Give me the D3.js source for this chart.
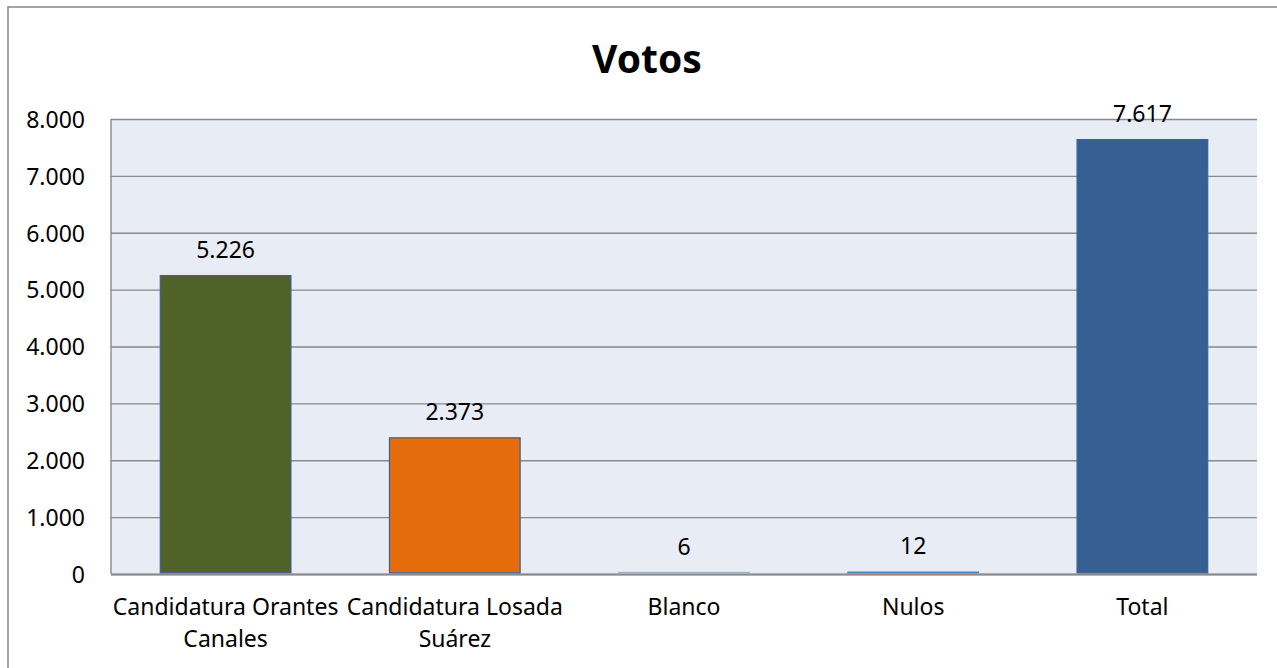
<!DOCTYPE html>
<html><head><meta charset="utf-8">
<script src="https://cdn.jsdelivr.net/npm/d3@7"></script>
<style>html,body{margin:0;padding:0;background:#fff;} svg{display:block;font-family:"Noto Sans",sans-serif;}</style>
</head><body>
<svg id="c" width="1277" height="668"></svg>
<script>
const categories = ["Candidatura Orantes Canales", "Candidatura Losada Suárez", "Blanco", "Nulos", "Total"];
const values = [5226, 2373, 6, 12, 7617];
const barColors = ["#4F6228", "#E46C0A", "#95B3D7", "#4F81BD", "#376092"];
const barStrokes = ["#3C5F8E", "#3C5F8E", "#95B3D7", "#4F81BD", "#376092"];
const yTicks = [0, 1000, 2000, 3000, 4000, 5000, 6000, 7000, 8000];
const title = "Votos";

const svg = d3.select("#c");
const M = {left: 111, right: 1257, top: 119, bottom: 574};
const fmt = v => d3.format(",")(v).replace(/,/g, ".");
const FS = 23;

svg.append("rect").attr("x", 8).attr("y", 7).attr("width", 1300).attr("height", 700)
  .attr("fill", "#fff").attr("stroke", "#868686").attr("stroke-width", 1.5);

const x = d3.scaleBand().domain(categories).range([M.left, M.right]).paddingInner(0.43).paddingOuter(0.215);
const y = d3.scaleLinear().domain([0, 8000]).range([M.bottom, M.top]);

svg.append("rect").attr("x", M.left).attr("y", M.top).attr("width", M.right - M.left).attr("height", M.bottom - M.top)
  .attr("fill", "#E8ECF4");

// gridlines
const grid = svg.append("g").attr("transform", `translate(${M.left},0)`)
  .call(d3.axisLeft(y).tickValues(yTicks).tickSize(-(M.right - M.left)).tickFormat(""));
grid.select(".domain").remove();
grid.selectAll("line").attr("stroke", "#8A8A8A").attr("stroke-width", 1.4);

// left axis line
svg.append("line").attr("x1", M.left).attr("x2", M.left).attr("y1", M.top).attr("y2", M.bottom)
  .attr("stroke", "#8A8A8A").attr("stroke-width", 1.4);

// bottom axis line
svg.append("line").attr("x1", M.left).attr("x2", M.right).attr("y1", M.bottom + 0.5).attr("y2", M.bottom + 0.5)
  .attr("stroke", "#8A8A8A").attr("stroke-width", 1.8);

// y labels
const yl = svg.append("g").attr("transform", `translate(85,0)`)
  .call(d3.axisLeft(y).tickValues(yTicks).tickSize(0).tickPadding(0).tickFormat(fmt));
yl.select(".domain").remove();
yl.selectAll("text").attr("font-size", FS).attr("fill", "#000").attr("font-family", "Noto Sans").attr("dy", "0.36em");

// bars (drawn slightly above the axis line like the original)
svg.append("g").selectAll("rect").data(categories).join("rect")
  .attr("x", d => x(d)).attr("width", x.bandwidth())
  .attr("y", (d, i) => y(values[i]) - 1.2).attr("height", (d, i) => y(0) - y(values[i]))
  .attr("fill", (d, i) => barColors[i]).attr("stroke", (d, i) => barStrokes[i]).attr("stroke-width", 1.2);

// data labels
svg.append("g").selectAll("text").data(categories).join("text")
  .attr("x", d => x(d) + x.bandwidth() / 2).attr("y", (d, i) => y(values[i]) - 19)
  .attr("text-anchor", "middle").attr("font-size", FS).attr("fill", "#000")
  .text((d, i) => fmt(values[i]));

// x labels with wrapping
const step = x.step();
const xl = svg.append("g");
categories.forEach(c => {
  const t = xl.append("text").attr("x", x(c) + x.bandwidth() / 2).attr("y", 615)
    .attr("text-anchor", "middle").attr("font-size", FS).attr("fill", "#000");
  const words = c.split(" ");
  let line = [], lines = [];
  const tmp = t.append("tspan");
  words.forEach(w => {
    line.push(w);
    tmp.text(line.join(" "));
    if (tmp.node().getComputedTextLength() > step + 2 && line.length > 1) {
      line.pop(); lines.push(line.join(" ")); line = [w];
    }
  });
  lines.push(line.join(" "));
  tmp.remove();
  lines.forEach((l, k) => t.append("tspan").attr("x", x(c) + x.bandwidth() / 2).attr("y", 615 + 32 * k).text(l));
});

// title
svg.append("text").attr("x", 647).attr("y", 73).attr("text-anchor", "middle")
  .attr("font-size", 39).attr("font-weight", "bold").attr("fill", "#000").text(title);
</script>
</body></html>
